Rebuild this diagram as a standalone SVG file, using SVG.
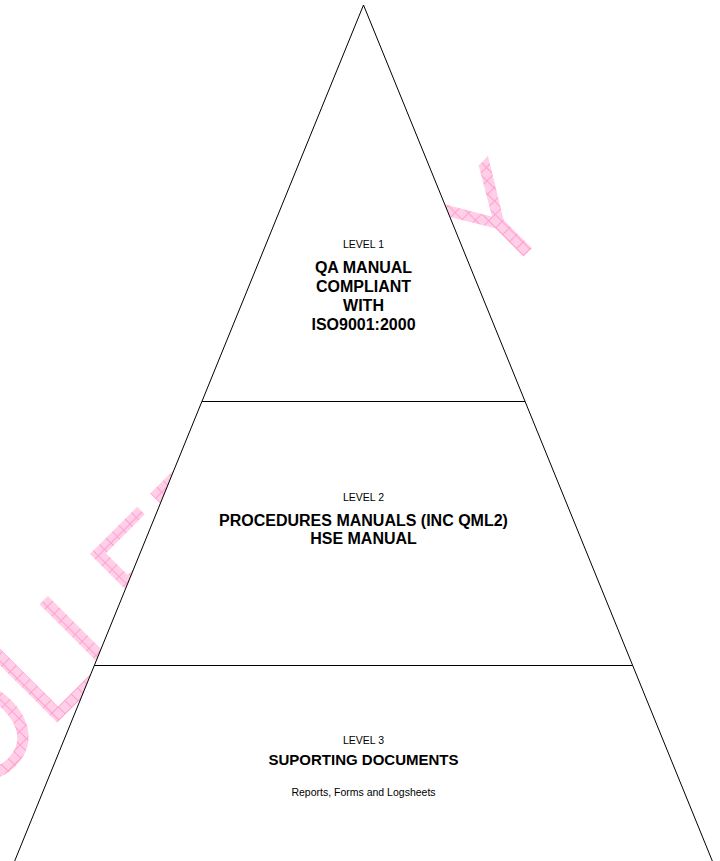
<svg xmlns="http://www.w3.org/2000/svg" width="720" height="861" viewBox="0 0 720 861">
  <defs>
    <pattern id="hatch" patternUnits="userSpaceOnUse" width="9" height="9">
      <rect width="9" height="9" fill="#ffcfe7"/>
      <path d="M0 0.5H9M0.5 0V9" stroke="#ff9fd0" stroke-width="1"/>
    </pattern>
  </defs>
  <style>
    .lvl { fill: #ffffff; stroke: #000000; stroke-width: 1; }
    .small { font-family: "Liberation Sans", Arial, sans-serif; font-size: 10.5px; fill: #000000; text-anchor: middle; }
    .title { font-family: "Liberation Sans", Arial, sans-serif; font-size: 16px; font-weight: bold; fill: #000000; text-anchor: middle; }
    .wm { font-family: "Liberation Sans", Arial, sans-serif; font-size: 128px; fill: url(#hatch); font-kerning: none; }
  </style>
  <rect width="720" height="861" fill="#ffffff"/>
  <g id="watermark">
    <text class="wm" transform="rotate(-45) scale(1,1.092)" x="237.3" y="505" text-anchor="end">UNCONTROLLED COPY</text>
  </g>
  <g id="level1">
    <polygon class="lvl" points="363.5,5 201.9,401.5 525.1,401.5"/>
    <text class="small" x="363.5" y="248">LEVEL 1</text>
    <text class="title" x="363.5" y="273">QA MANUAL</text>
    <text class="title" x="363.5" y="292">COMPLIANT</text>
    <text class="title" x="363.5" y="311">WITH</text>
    <text class="title" x="363.5" y="330">ISO9001:2000</text>
  </g>
  <g id="level2">
    <polygon class="lvl" points="201.9,401.5 525.1,401.5 632.7,665.5 94.3,665.5"/>
    <text class="small" x="363.5" y="501">LEVEL 2</text>
    <text class="title" x="363.5" y="526">PROCEDURES MANUALS (INC QML2)</text>
    <text class="title" x="363.5" y="544">HSE MANUAL</text>
  </g>
  <g id="level3">
    <polygon class="lvl" points="94.3,665.5 632.7,665.5 716,870 11,870"/>
    <text class="small" x="363.5" y="744">LEVEL 3</text>
    <text class="title" x="363.5" y="765" style="font-size:15px">SUPORTING DOCUMENTS</text>
    <text class="small" x="363.5" y="796">Reports, Forms and Logsheets</text>
  </g>
</svg>
